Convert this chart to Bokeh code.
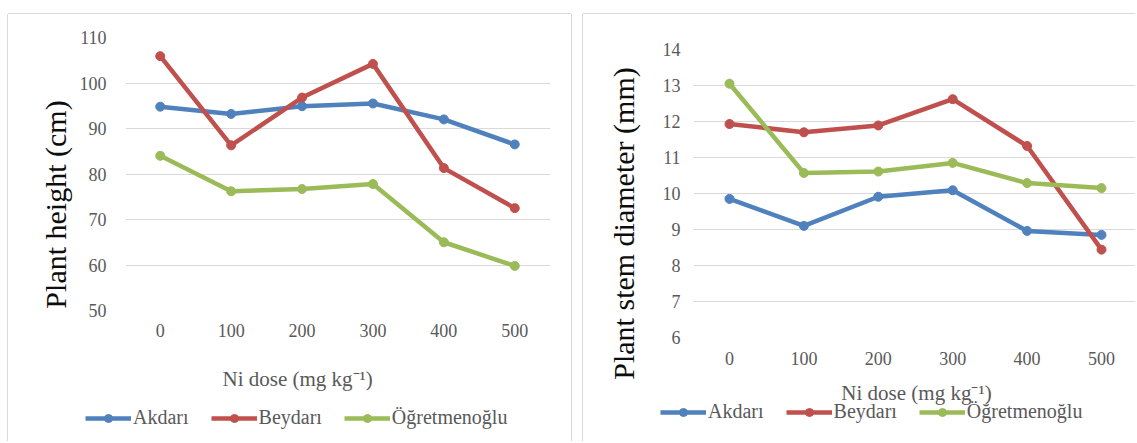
import math
from bokeh.plotting import figure
from bokeh.models import Range1d, FixedTicker, Legend, LegendItem, Spacer, Label
from bokeh.layouts import row, column
from bokeh.embed import file_html
from bokeh.resources import INLINE

doses = [0, 100, 200, 300, 400, 500]
series_names = ["Akdarı", "Beydarı", "Öğretmenoğlu"]
colors = ["#4F81BD", "#C0504D", "#9BBB59"]

height_akdari = [94.8, 93.2, 94.9, 95.5, 92.0, 86.5]
height_beydari = [105.9, 86.3, 96.8, 104.2, 81.3, 72.5]
height_ogretmenoglu = [84.0, 76.2, 76.7, 77.8, 65.0, 59.8]

stem_akdari = [9.85, 9.10, 9.91, 10.09, 8.96, 8.85]
stem_beydari = [11.93, 11.70, 11.89, 12.62, 11.32, 8.44]
stem_ogretmenoglu = [13.05, 10.57, 10.61, 10.85, 10.29, 10.15]

y1_ticks = [50, 60, 70, 80, 90, 100, 110]
y2_ticks = [6, 7, 8, 9, 10, 11, 12, 13, 14]

SERIF = "Liberation Serif"
GRAY = "#595959"
BORDER = "#d9d9d9"
x_title = "Ni dose (mg kg\u207b\u00b9)"


def blank(width, height, css):
    """A plain canvas whose frame covers everything; data units = pixels."""
    p = figure(width=width, height=height, output_backend="svg", toolbar_location=None,
               x_range=Range1d(0, width), y_range=Range1d(0, height),
               x_axis_location=None, y_axis_location=None,
               min_border=0, min_border_left=0, min_border_right=0,
               min_border_top=0, min_border_bottom=0)
    p.frame_align = False
    p.grid.visible = False
    p.outline_line_color = None
    p.background_fill_color = "white"
    p.border_fill_color = "white"
    p.styles = css
    return p


def chart(width, height, xr, yr, yticks, series, borders, xstandoff, ystandoff, css):
    p = figure(width=width, height=height, output_backend="svg", toolbar_location=None,
               x_range=Range1d(*xr), y_range=Range1d(*yr),
               min_border_left=borders[0], min_border_right=borders[1],
               min_border_top=borders[2], min_border_bottom=borders[3])
    p.frame_align = False
    p.outline_line_color = None
    p.background_fill_color = "white"
    p.border_fill_color = "white"
    p.xgrid.grid_line_color = None
    p.ygrid.grid_line_color = BORDER
    p.ygrid.grid_line_width = 1
    p.yaxis.ticker = FixedTicker(ticks=yticks)
    p.xaxis.ticker = FixedTicker(ticks=doses)
    for ax in (p.xaxis, p.yaxis):
        ax.axis_line_color = None
        ax.major_tick_line_color = None
        ax.minor_tick_line_color = None
        ax.major_tick_out = 0
        ax.major_tick_in = 0
        ax.major_label_text_font = SERIF
        ax.major_label_text_font_size = "18px"
        ax.major_label_text_color = GRAY
    p.xaxis.major_label_standoff = xstandoff
    p.yaxis.major_label_standoff = ystandoff
    for vals, col in zip(series, colors):
        p.line(doses, vals, line_color=col, line_width=4.5)
        p.scatter(doses, vals, marker="circle", size=9, fill_color=col, line_color=col)
    p.styles = css
    return p


def legend_box(width, height, series, title_pos, title_align, legend_loc, css):
    p = blank(width, height, css)
    items = []
    for name, vals, col in zip(series_names, series, colors):
        # hidden copies of the series, used only as legend glyph sources
        ln = p.line(doses, vals, line_color=col, line_width=4.5, visible=False)
        sc = p.scatter(doses, vals, marker="circle", size=9, fill_color=col,
                       line_color=col, visible=False)
        items.append(LegendItem(label=name, renderers=[ln, sc]))
    leg = Legend(items=items, orientation="horizontal", location=legend_loc,
                 glyph_width=46, glyph_height=20, label_standoff=2, spacing=22,
                 padding=0, margin=0, border_line_color=None, background_fill_alpha=0,
                 inactive_fill_alpha=0,
                 label_text_font=SERIF, label_text_font_size="20px",
                 label_text_color=GRAY, label_height=20)
    p.add_layout(leg, "center")
    p.add_layout(Label(x=title_pos[0], y=title_pos[1], text=x_title,
                       text_align=title_align, text_baseline="middle",
                       text_font=SERIF, text_font_size="21px", text_color=GRAY))
    return p


def ytitle_box(width, height, text, pos, css):
    p = blank(width, height, css)
    p.add_layout(Label(x=pos[0], y=pos[1], text=text, angle=math.pi / 2,
                       text_align="center", text_baseline="middle",
                       text_font=SERIF, text_font_size="30px", text_color="#0d0d0d"))
    return p


height_series = [height_akdari, height_beydari, height_ogretmenoglu]
stem_series = [stem_akdari, stem_beydari, stem_ogretmenoglu]

# ---- left chart: plant height ----
c1 = ytitle_box(68, 427, "Plant height (cm)", (47, 237),
                {"box-shadow": f"-1px 0 0 0 {BORDER}, 0 -1px 0 0 {BORDER}"})
a1 = chart(495, 331, (-49, 550.4), (50, 110), y1_ticks, height_series,
           (46, 21, 23, 35), 13, 19,
           {"box-shadow": f"0 -1px 0 0 {BORDER}, 1px 0 0 0 {BORDER}"})
b1 = legend_box(495, 96, height_series, (146, 63), "left", (9, 12),
                {"box-shadow": f"1px 0 0 0 {BORDER}"})

# ---- right chart: stem diameter ----
c2 = ytitle_box(72, 427, "Plant stem diameter (mm)", (40, 218),
                {"box-shadow": f"-1px 0 0 0 {BORDER}, 0 -1px 0 0 {BORDER}"})
a2 = chart(480, 360, (-48.4, 545.7), (6, 14), y2_ticks, stem_series,
           (38, 0, 35, 37), 14, 13,
           {"box-shadow": f"0 -1px 0 0 {BORDER}"})
b2 = legend_box(480, 67, stem_series, (261, 49), "center", (5, 18), {})

layout = column(
    Spacer(height=14),
    row(Spacer(width=8), c1, column(a1, b1, spacing=0), Spacer(width=12),
        c2, column(a2, b2, spacing=0), spacing=0),
    spacing=0)

open("out.html", "w").write(file_html(layout, INLINE))
